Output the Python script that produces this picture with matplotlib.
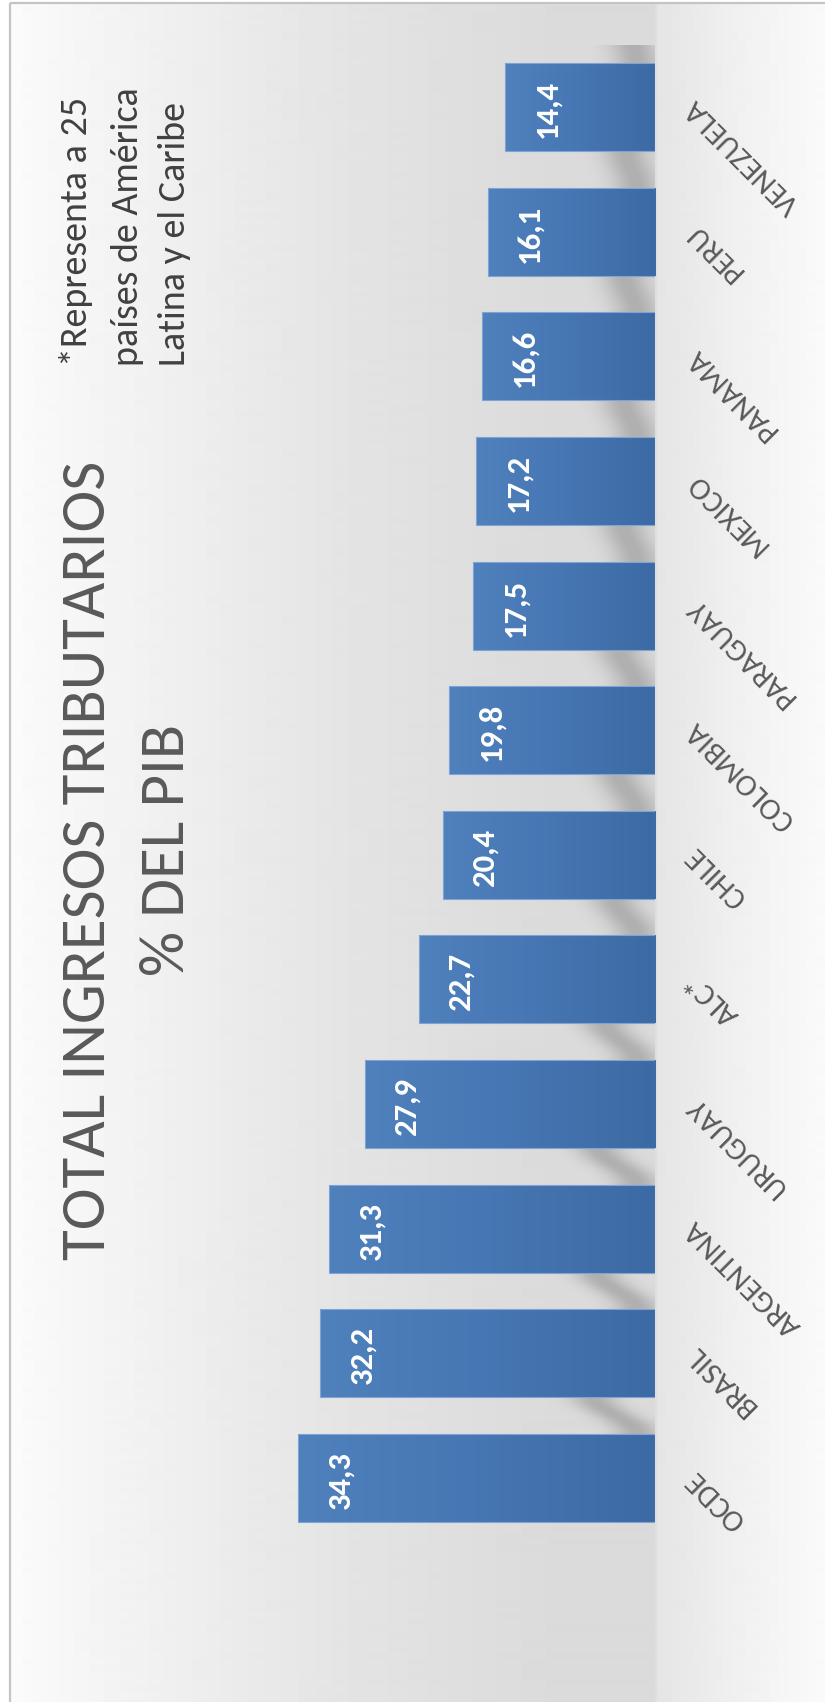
import numpy as np
import matplotlib
matplotlib.use('Agg')
import matplotlib.pyplot as plt
from matplotlib import font_manager as fm
from matplotlib.colors import LinearSegmentedColormap
from matplotlib.transforms import offset_copy

paises = ['OCDE', 'BRASIL', 'ARGENTINA', 'URUGUAY', 'ALC*', 'CHILE',
          'COLOMBIA', 'PARAGUAY', 'MEXICO', 'PANAMA', 'PERU', 'VENEZUELA']
ingresos = [34.3, 32.2, 31.3, 27.9, 22.7, 20.4, 19.8, 17.5, 17.2, 16.6, 16.1, 14.4]

titulo = ['TOTAL INGRESOS TRIBUTARIOS', '% DEL PIB']
nota = ['*Representa a 25', 'países de América', 'Latina y el Caribe']

# Calibri-like family if present, otherwise Lato
disponibles = {f.name for f in fm.fontManager.ttflist}
fam = [n for n in ['Carlito', 'Lato'] if n in disponibles] + ['DejaVu Sans']

W, H = 825, 1702
fig = plt.figure(figsize=(W / 100, H / 100), dpi=100)
rend = fig.canvas.get_renderer()


def fit_len(txt, target):
    # font size that makes the text advance `target` pixels long
    rot = txt.get_rotation()
    txt.set_rotation(0)
    bb = txt.get_window_extent(renderer=rend)
    txt.set_rotation(rot)
    return txt.get_fontsize() * target / bb.width


# fondo con degradado y marco
bg = fig.add_axes([0, 0, 1, 1])
bg.set_xlim(0, W)
bg.set_ylim(H, 0)
bg.axis('off')
gx = [10, 60, 150, 250, 350, 450, 550, 654, 658, 700, 760, 825]
gv = [251, 247, 241, 234, 228, 223, 219, 219, 229, 235, 243, 250]
grey = np.interp(np.arange(10, W), gx, gv) / 255
bg.imshow(grey[None, :], cmap='gray', vmin=0, vmax=1, extent=[10, W, H, 3],
          aspect='auto', interpolation='bilinear')
bg.plot([10, 10], [3, H], color='#c4c4c4', lw=1.6, solid_capstyle='butt')
bg.plot([10, W], [3, 3], color='#c4c4c4', lw=1.6, solid_capstyle='butt')

# area de barras: base en la derecha, barras crecen a la izquierda
base_px, left_px, top_px, bot_px = 655, 239, 44.7, 1540.3
xmax = 40
ax = fig.add_axes([left_px / W, 1 - bot_px / H,
                   (base_px - left_px) / W, (bot_px - top_px) / H])
ax.patch.set_alpha(0)
for s in ax.spines.values():
    s.set_visible(False)
ax.set_xticks([])
ax.set_yticks([])

y = np.arange(len(paises))
bh = 0.706
bars = ax.barh(y, ingresos, height=bh, facecolor='none',
               edgecolor='#7ea3d4', linewidth=0.8, zorder=3)

azul = LinearSegmentedColormap.from_list('azul', ['#3c6aa4', '#4676b3', '#4f81bd'])
grad = np.linspace(0, 1, 256)[None, :]
for b in bars:
    x0, y0 = b.get_xy()
    ax.imshow(grad, cmap=azul, extent=[x0, x0 + b.get_width(), y0, y0 + b.get_height()],
              aspect='auto', interpolation='bilinear', zorder=2)

# sombra curva entre barras, junto a la base
px_x = (base_px - left_px) / xmax
sx = np.linspace(0, 12, 250)
sy = np.linspace(-0.5, 11.5, 1500)
X, Y = np.meshgrid(sx * px_x, sy)
dark = np.zeros_like(X)
for i, v in enumerate(ingresos):
    lo = i + bh / 2
    hi = i + 1 - bh / 2
    t = np.clip((Y - lo) / (hi - lo), 0, 1)
    t = t * t * (3 - 2 * t)
    xc = 18 + (1.8 * v - 18) * t
    m = (Y > lo - 0.15) & (Y < hi + 0.15)
    dark = np.maximum(dark, np.where(m, np.exp(-0.5 * ((X - xc) / 16) ** 2), 0))
shadow = np.zeros(X.shape + (4,))
shadow[..., 3] = 0.2 * dark
ax.imshow(shadow, extent=[0, 12, -0.5, 11.5], origin='lower', aspect='auto',
          interpolation='bilinear', zorder=1)

ax.set_xlim(xmax, 0)
ax.set_ylim(-0.5, 11.5)

# valores dentro del extremo de cada barra
valores = []
for yi, v in zip(y, ingresos):
    valores.append(ax.annotate(f'{v:.1f}'.replace('.', ','), xy=(v, yi), xytext=(36.7, -1.4),
                               textcoords='offset points', rotation=90, rotation_mode='anchor',
                               ha='center', va='baseline', color='white', fontsize=23,
                               fontweight='bold', family=fam, zorder=5))
fs_v = fit_len(valores[0], 58)
for t in valores:
    t.set_fontsize(fs_v)

# nombres de paises en diagonal
lab_tr = offset_copy(ax.get_yaxis_transform(), fig=fig, x=35, y=4, units='dots')
etiquetas = []
for yi, p in zip(y, paises):
    etiquetas.append(ax.text(1, yi, p, transform=lab_tr, rotation=135, rotation_mode='anchor',
                             ha='right', va='center', fontsize=18.5, color='#595959',
                             family=fam, clip_on=False))
fs_e = fit_len(etiquetas[paises.index('ARGENTINA')], 151)
for t in etiquetas:
    t.set_fontsize(fs_e)

# titulo
t1 = bg.text(105, 860, titulo[0], rotation=90, rotation_mode='anchor', ha='center',
             va='baseline', color='#595959', fontsize=40, fontweight='light', family=fam)
fs = fit_len(t1, 797)
t1.set_fontsize(fs)
bg.text(184, 850, titulo[1], rotation=90, rotation_mode='anchor', ha='center',
        va='baseline', color='#595959', fontsize=fs, fontweight='light', family=fam)

# nota
notas = []
for xb, linea in zip([87, 138, 185], nota):
    notas.append(bg.text(xb, 366, linea, rotation=90, rotation_mode='anchor',
                         ha='left', va='baseline', color='#404040', fontsize=24,
                         family=fam))
fs_n = np.mean([fit_len(n, L) for n, L in zip(notas, [270, 279, 263])])
for n in notas:
    n.set_fontsize(fs_n)

fig.savefig('out.png', dpi=100)
